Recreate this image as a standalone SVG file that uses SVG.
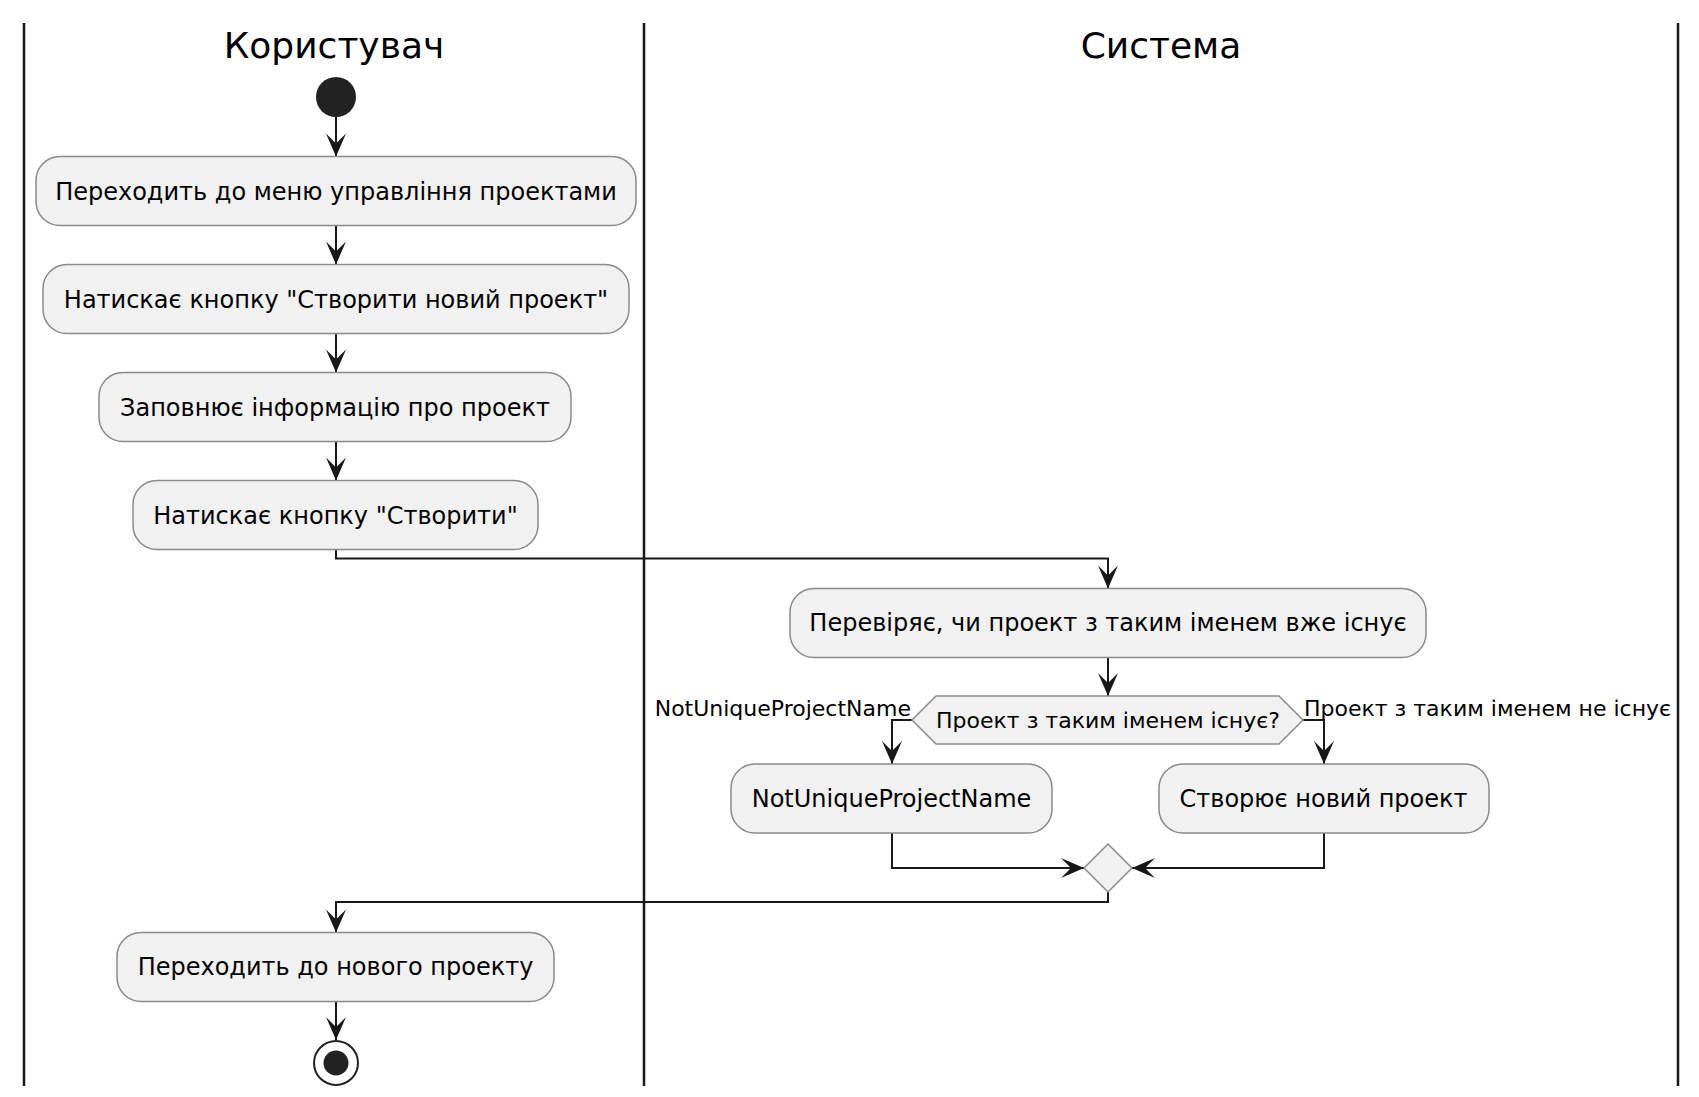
<svg xmlns="http://www.w3.org/2000/svg" width="1699" height="1097" viewBox="0 0 1699 1097">
<style>
.lane{stroke:#181818;stroke-width:2.5;fill:none}
.title{font-family:"DejaVu Sans",sans-serif;font-size:36px;fill:#000;text-anchor:middle}
.box{fill:#F1F1F1;stroke:#8a8a8a;stroke-width:1.5}
.txt{font-family:"DejaVu Sans",sans-serif;font-size:24px;fill:#000;text-anchor:middle}
.lbl{font-family:"DejaVu Sans",sans-serif;font-size:22px;fill:#000}
.edge{stroke:#181818;stroke-width:2;fill:none;marker-end:url(#arr)}
</style>
<defs>
<marker id="arr" markerUnits="userSpaceOnUse" viewBox="-24 -11 26 22" markerWidth="26" markerHeight="22" refX="0" refY="0" orient="auto" overflow="visible">
<path d="M0,0 L-23,-10 L-13,0 L-23,10 Z" fill="#181818"/>
</marker>
</defs>
<rect width="1699" height="1097" fill="#FFFFFF"/>
<g id="lanes">
<line class="lane" x1="24" y1="23" x2="24" y2="1086"/>
<line class="lane" x1="644" y1="23" x2="644" y2="1086"/>
<line class="lane" x1="1678" y1="23" x2="1678" y2="1086"/>
<text class="title" x="334" y="58">Користувач</text>
<text class="title" x="1161" y="58">Система</text>
</g>
<g id="connectors">
<path class="edge" d="M336,117 L336,156.5"/>
<path class="edge" d="M336,225.5 L336,264.5"/>
<path class="edge" d="M336,333.5 L336,372.5"/>
<path class="edge" d="M336,441.5 L336,480.5"/>
<path class="edge" d="M336,549.5 L336,558.5 L1108,558.5 L1108,588.5"/>
<path class="edge" d="M1108,657.5 L1108,696"/>
<path class="edge" d="M912,720 L892,720 L892,764"/>
<path class="edge" d="M1303,720 L1324,720 L1324,764"/>
<path class="edge" d="M892,833 L892,868 L1084,868"/>
<path class="edge" d="M1324,833 L1324,868 L1132,868"/>
<path class="edge" d="M1108,892 L1108,902 L336,902 L336,932.5"/>
<path class="edge" d="M336,1001.5 L336,1040"/>
<text class="lbl" x="911" y="716" text-anchor="end">NotUniqueProjectName</text>
<text class="lbl" x="1304" y="716">Проект з таким іменем не існує</text>
</g>
<g id="start"><circle cx="336" cy="97" r="20" fill="#222222"/></g>
<g id="n1"><rect class="box" x="36" y="156.5" width="600" height="69" rx="24" ry="24"/><text class="txt" x="336" y="200">Переходить до меню управління проектами</text></g>
<g id="n2"><rect class="box" x="43" y="264.5" width="586" height="69" rx="24" ry="24"/><text class="txt" x="336" y="308">Натискає кнопку "Створити новий проект"</text></g>
<g id="n3"><rect class="box" x="99" y="372.5" width="472" height="69" rx="24" ry="24"/><text class="txt" x="335" y="416">Заповнює інформацію про проект</text></g>
<g id="n4"><rect class="box" x="133" y="480.5" width="405" height="69" rx="24" ry="24"/><text class="txt" x="335.5" y="524">Натискає кнопку "Створити"</text></g>
<g id="n5"><rect class="box" x="790" y="588.5" width="636" height="69" rx="24" ry="24"/><text class="txt" x="1108" y="631">Перевіряє, чи проект з таким іменем вже існує</text></g>
<g id="d1"><polygon class="box" points="912,720 936,696 1279,696 1303,720 1279,744 936,744"/><text class="lbl" x="1108" y="728" text-anchor="middle">Проект з таким іменем існує?</text></g>
<g id="n6"><rect class="box" x="731" y="764" width="321" height="69" rx="24" ry="24"/><text class="txt" x="891.5" y="807">NotUniqueProjectName</text></g>
<g id="n7"><rect class="box" x="1159" y="764" width="330" height="69" rx="24" ry="24"/><text class="txt" x="1323.5" y="807">Створює новий проект</text></g>
<g id="merge"><polygon class="box" points="1108,844 1132,868 1108,892 1084,868"/></g>
<g id="n8"><rect class="box" x="117" y="932.5" width="437" height="69" rx="24" ry="24"/><text class="txt" x="335.5" y="975">Переходить до нового проекту</text></g>
<g id="end"><circle cx="336" cy="1063" r="22" fill="#FFFFFF" stroke="#222222" stroke-width="2"/><circle cx="336" cy="1063" r="12.5" fill="#222222"/></g>
</svg>
